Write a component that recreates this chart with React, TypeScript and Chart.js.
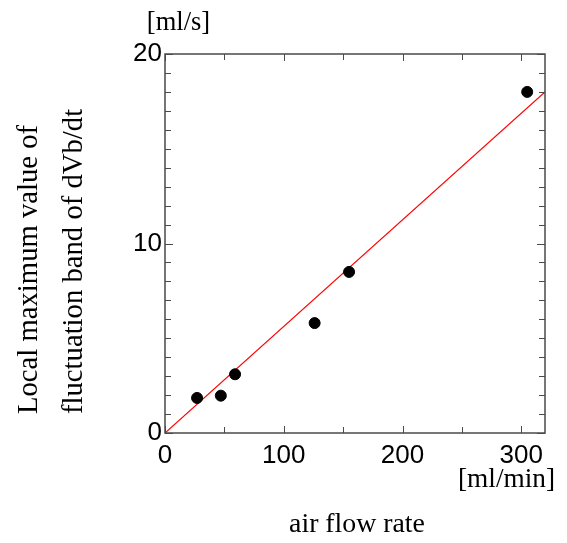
import React, { useEffect, useRef } from "react";
import { Chart, registerables } from "chart.js";

Chart.register(...registerables);

const flowRate = [27, 47, 59, 126, 155, 305];
const dvbdtMax = [1.85, 1.97, 3.1, 5.8, 8.5, 18.0];
const fitX = [0, 320];
const fitY = [0, 18.0];
const xTickValues = [0, 100, 200, 300];
const yTickValues = [0, 10, 20];
const yTitleLines = ["Local maximum value of", "fluctuation band of dVb/dt"];
const xTitle = "air flow rate";
const yUnit = "[ml/s]";
const xUnit = "[ml/min]";

const SERIF = "'Liberation Serif', 'Times New Roman', serif";
const SANS = "'Liberation Sans', Arial, sans-serif";

const framePlugin = {
  id: "frameAndTicks",
  afterDatasetsDraw(chart: any) {
    const { ctx, chartArea: a, scales } = chart;
    const xs = scales.x;
    const ys = scales.y;
    ctx.save();
    ctx.strokeStyle = "#4a4a4a";
    ctx.lineWidth = 1;
    for (let v = 0; v <= 20; v += 1) {
      const py = Math.round(ys.getPixelForValue(v)) + 0.5;
      const len = v % 10 === 0 ? 8 : 6;
      ctx.beginPath();
      ctx.moveTo(a.left, py);
      ctx.lineTo(a.left + len, py);
      ctx.moveTo(a.right, py);
      ctx.lineTo(a.right - len, py);
      ctx.stroke();
    }
    for (let v = 0; v <= 320; v += 50) {
      const px = Math.round(xs.getPixelForValue(v)) + 0.5;
      const len = v % 100 === 0 ? 7 : 6;
      ctx.beginPath();
      ctx.moveTo(px, a.bottom);
      ctx.lineTo(px, a.bottom - len);
      ctx.moveTo(px, a.top);
      ctx.lineTo(px, a.top + len);
      ctx.stroke();
    }
    ctx.lineWidth = 1.5;
    ctx.strokeRect(a.left, a.top, a.right - a.left, a.bottom - a.top);
    ctx.restore();
  },
  afterDraw(chart: any) {
    const { ctx } = chart;
    ctx.save();
    ctx.fillStyle = "#000";
    ctx.textBaseline = "alphabetic";
    ctx.textAlign = "center";
    ctx.font = `26.5px ${SERIF}`;
    ctx.fillText(yUnit, 178.5, 30);
    ctx.font = `27.3px ${SERIF}`;
    ctx.fillText(xUnit, 506.5, 487);
    ctx.font = `27.8px ${SERIF}`;
    ctx.fillText(xTitle, 357, 532);
    ctx.font = `28.7px ${SERIF}`;
    ctx.textAlign = "left";
    const baselines = [37, 82];
    yTitleLines.forEach((t, i) => {
      ctx.save();
      ctx.translate(baselines[i], 414);
      ctx.rotate(-Math.PI / 2);
      ctx.fillText(t, 0, 0);
      ctx.restore();
    });
    ctx.restore();
  },
};

export default function App() {
  const ref = useRef<HTMLCanvasElement>(null);
  useEffect(() => {
    if (!ref.current) return;
    const chart = new Chart(ref.current, {
      type: "scatter",
      data: {
        datasets: [
          {
            label: "fit",
            data: fitX.map((x, i) => ({ x, y: fitY[i] })),
            showLine: true,
            borderColor: "#ff0000",
            borderWidth: 1.2,
            pointRadius: 0,
            order: 2,
          },
          {
            label: "data",
            data: flowRate.map((x, i) => ({ x, y: dvbdtMax[i] })),
            backgroundColor: "#000",
            borderColor: "#000",
            pointRadius: 5.5,
            order: 1,
          },
        ],
      },
      options: {
        responsive: false,
        animation: false,
        layout: { padding: { top: 54, right: 22, left: 0, bottom: 0 } },
        plugins: { legend: { display: false }, tooltip: { enabled: false } },
        scales: {
          x: {
            type: "linear",
            min: 0,
            max: 320,
            grid: { display: false, drawTicks: false },
            border: { display: false },
            ticks: {
              autoSkip: false,
              padding: 7,
              color: "#000",
              font: { family: SANS, size: 26 },
              maxRotation: 0,
            },
            afterBuildTicks: (s: any) => {
              s.ticks = xTickValues.map((value) => ({ value }));
            },
            afterFit: (s: any) => {
              s.height = 110;
            },
          },
          y: {
            type: "linear",
            min: 0,
            max: 20,
            grid: { display: false, drawTicks: false },
            border: { display: false },
            ticks: {
              autoSkip: false,
              padding: 3,
              color: "#000",
              font: { family: SANS, size: 26 },
            },
            afterBuildTicks: (s: any) => {
              s.ticks = yTickValues.map((value) => ({ value }));
            },
            afterFit: (s: any) => {
              s.width = 165;
            },
          },
        },
      },
      plugins: [framePlugin],
    });
    return () => chart.destroy();
  }, []);
  return (
    <div style={{ position: "absolute", left: 0, top: 0, width: 567, height: 543, background: "#fff" }}>
      <canvas ref={ref} width={567} height={543} />
    </div>
  );
}
